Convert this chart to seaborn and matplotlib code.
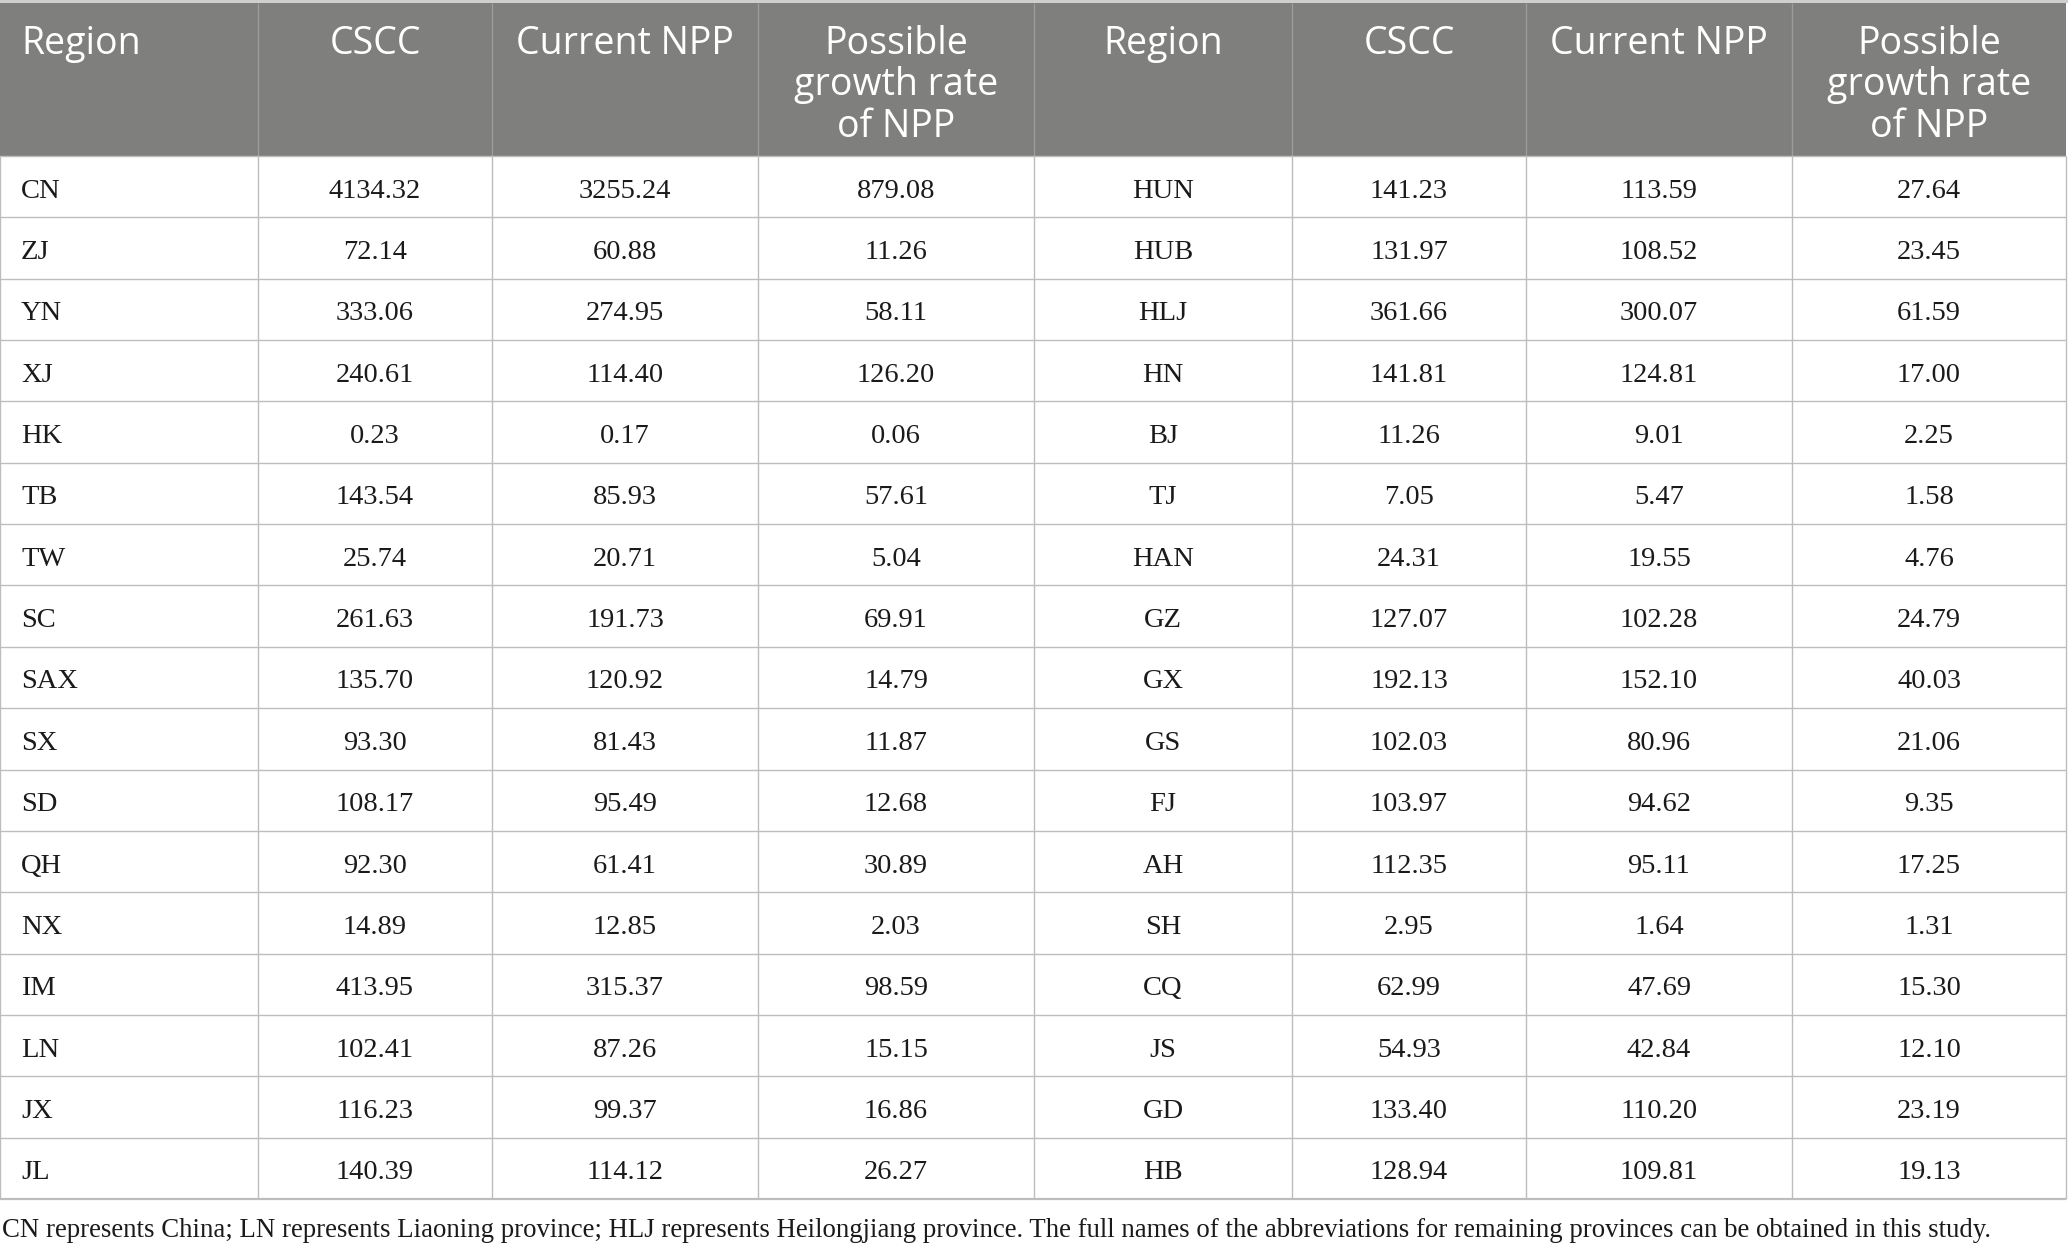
import matplotlib
matplotlib.use("Agg")
import matplotlib.pyplot as plt
import seaborn as sns
import numpy as np

# ---------------- data ----------------
headers = ["Region", "CSCC", "Current NPP", "Possible\ngrowth rate\nof NPP"]

regions_left = ["CN", "ZJ", "YN", "XJ", "HK", "TB", "TW", "SC", "SAX", "SX",
                "SD", "QH", "NX", "IM", "LN", "JX", "JL"]
cscc_left = [4134.32, 72.14, 333.06, 240.61, 0.23, 143.54, 25.74, 261.63, 135.70,
             93.30, 108.17, 92.30, 14.89, 413.95, 102.41, 116.23, 140.39]
npp_left = [3255.24, 60.88, 274.95, 114.40, 0.17, 85.93, 20.71, 191.73, 120.92,
            81.43, 95.49, 61.41, 12.85, 315.37, 87.26, 99.37, 114.12]
growth_left = [879.08, 11.26, 58.11, 126.20, 0.06, 57.61, 5.04, 69.91, 14.79,
               11.87, 12.68, 30.89, 2.03, 98.59, 15.15, 16.86, 26.27]

regions_right = ["HUN", "HUB", "HLJ", "HN", "BJ", "TJ", "HAN", "GZ", "GX", "GS",
                 "FJ", "AH", "SH", "CQ", "JS", "GD", "HB"]
cscc_right = [141.23, 131.97, 361.66, 141.81, 11.26, 7.05, 24.31, 127.07, 192.13,
              102.03, 103.97, 112.35, 2.95, 62.99, 54.93, 133.40, 128.94]
npp_right = [113.59, 108.52, 300.07, 124.81, 9.01, 5.47, 19.55, 102.28, 152.10,
             80.96, 94.62, 95.11, 1.64, 47.69, 42.84, 110.20, 109.81]
growth_right = [27.64, 23.45, 61.59, 17.00, 2.25, 1.58, 4.76, 24.79, 40.03,
                21.06, 9.35, 17.25, 1.31, 15.30, 12.10, 23.19, 19.13]

footnote = ("CN represents China; LN represents Liaoning province; HLJ represents "
            "Heilongjiang province. The full names of the abbreviations for remaining "
            "provinces can be obtained in this study.")

# ---------------- style ----------------
sns.set_theme(style="white")
plt.rcParams["font.family"] = ["DejaVu Sans"]

W, H = 2068, 1252
fig = plt.figure(figsize=(W / 100, H / 100), dpi=100)
ax = fig.add_axes([0, 0, 1, 1])
ax.set_xlim(0, W)
ax.set_ylim(H, 0)
ax.axis("off")

col_edges = [0, 258, 492, 758, 1034, 1292, 1526, 1792, 2066]
head_top, head_bot = 3, 156
row_h = (1199 - head_bot) / 17.0
n_rows = len(regions_left)
table_bot = head_bot + n_rows * row_h

header_bg = "#7f807e"
line_col = "#bdbdbd"
head_font = "Open Sans"
body_font = "Liberation Serif"

# header background + top border
ax.add_patch(plt.Rectangle((0, 0), W, head_top, color="#cfcfcf", lw=0))
ax.add_patch(plt.Rectangle((0, head_top), col_edges[-1], head_bot - head_top,
                           color=header_bg, lw=0))
# header separators
for x in col_edges[1:-1]:
    ax.plot([x, x], [head_top, head_bot], color="#9c9c9c", lw=1.0,
            solid_capstyle="butt")

# header texts
hdr_fs = 27
hdr_first_baseline = 54
hdr_line_gap = 41.5
all_headers = headers + headers
for i, h in enumerate(all_headers):
    lines = h.split("\n")
    if i == 0:
        x, ha = 21, "left"
    else:
        x, ha = (col_edges[i] + col_edges[i + 1]) / 2, "center"
    for k, ln in enumerate(lines):
        ax.text(x, hdr_first_baseline + k * hdr_line_gap, ln, ha=ha, va="baseline",
                color="white", fontsize=hdr_fs, family=head_font)

# grid lines in body
for r in range(1, n_rows):
    y = head_bot + r * row_h
    ax.plot([0, col_edges[-1]], [y, y], color=line_col, lw=1.0,
            solid_capstyle="butt")
ax.plot([0, col_edges[-1]], [table_bot, table_bot], color=line_col, lw=1.6,
        solid_capstyle="butt")
for x in col_edges:
    ax.plot([x, x], [head_bot, table_bot], color=line_col, lw=1.0,
            solid_capstyle="butt")
ax.plot([0, col_edges[-1]], [head_bot, head_bot], color=line_col, lw=1.0,
        solid_capstyle="butt")

# body texts
body_fs = 20.5
cols = [regions_left, cscc_left, npp_left, growth_left,
        regions_right, cscc_right, npp_right, growth_right]
for c, values in enumerate(cols):
    for r, v in enumerate(values):
        yc = head_bot + (r + 0.5) * row_h + 11
        s = v if isinstance(v, str) else f"{v:.2f}"
        if c == 0:
            x, ha = 21, "left"
        else:
            x, ha = (col_edges[c] + col_edges[c + 1]) / 2, "center"
        ax.text(x, yc, s, ha=ha, va="baseline", color="#1a1a1a",
                fontsize=body_fs, family=body_font)

# footnote
ax.text(2, 1237, footnote, ha="left", va="baseline", color="#1a1a1a",
        fontsize=19.25, family=body_font)

fig.savefig("out.png", dpi=100, facecolor="white")
